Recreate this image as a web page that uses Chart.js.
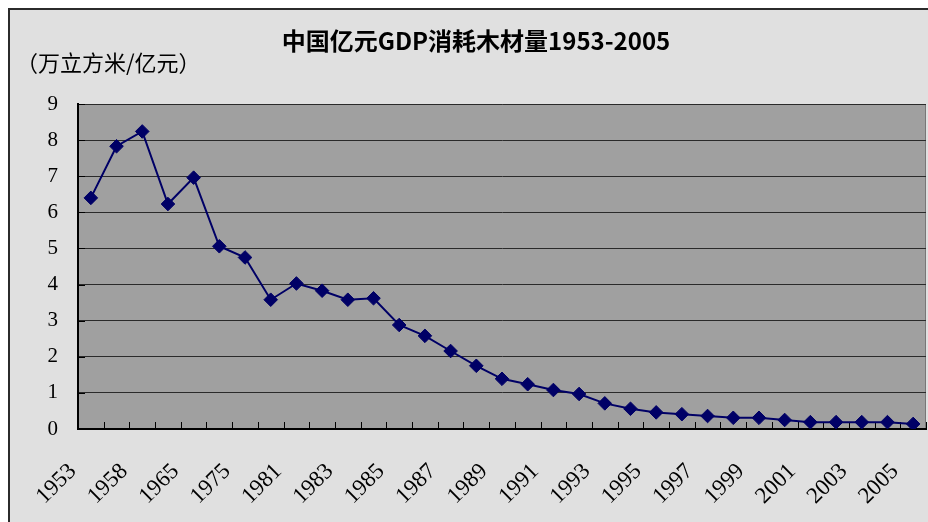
<!DOCTYPE html>
<html lang="zh">
<head>
    <meta charset="UTF-8">
    <title>中国亿元GDP消耗木材量1953-2005</title>
    <script src="https://cdn.jsdelivr.net/npm/chart.js"></script>
    <style>
        body {
            margin: 0;
            padding: 0;
            background: #fff;
            overflow: hidden;
        }
        canvas {
            display: block;
        }
    </style>
</head>
<body>
<canvas id="woodChart" width="928" height="522"></canvas>

<script>
    // 年份（只显示隔一个的标签）
    var years = ['1953', '1957', '1958', '1962', '1965', '1970', '1975', '1978',
        '1981', '1982', '1983', '1984', '1985', '1986', '1987', '1988', '1989',
        '1990', '1991', '1992', '1993', '1994', '1995', '1996', '1997', '1998',
        '1999', '2000', '2001', '2002', '2003', '2004', '2005'];
    // 万立方米/亿元
    var woodPerGdp = [6.40, 7.83, 8.24, 6.23, 6.96, 5.06, 4.75, 3.58,
        4.03, 3.83, 3.58, 3.62, 2.88, 2.58, 2.16, 1.75, 1.39,
        1.24, 1.08, 0.97, 0.71, 0.56, 0.46, 0.41, 0.36, 0.31,
        0.31, 0.25, 0.19, 0.19, 0.19, 0.19, 0.14];
    var yTicks = [0, 1, 2, 3, 4, 5, 6, 7, 8, 9];

    var chartTitle = '中国亿元GDP消耗木材量1953-2005';
    var unitLabel = '（万立方米/亿元）';

    // 背景、边框、标题
    var framePlugin = {
        id: 'frame',
        beforeDraw: function (chart) {
            var ctx = chart.ctx;
            var a = chart.chartArea;
            ctx.save();
            ctx.fillStyle = '#fff';
            ctx.fillRect(0, 0, chart.width, chart.height);
            ctx.fillStyle = '#e0e0e0';
            ctx.fillRect(8, 8, chart.width - 8, chart.height - 8);
            ctx.strokeStyle = '#2b2b2b';
            ctx.lineWidth = 2;
            ctx.beginPath();
            ctx.moveTo(9, chart.height);
            ctx.lineTo(9, 9);
            ctx.lineTo(chart.width, 9);
            ctx.stroke();

            ctx.fillStyle = '#a0a0a0';
            ctx.fillRect(a.left, a.top, a.right - a.left, a.bottom - a.top);
            ctx.strokeStyle = '#777';
            ctx.lineWidth = 1;
            ctx.beginPath();
            ctx.moveTo(a.left, a.top + 0.5);
            ctx.lineTo(a.right - 0.5, a.top + 0.5);
            ctx.lineTo(a.right - 0.5, a.bottom);
            ctx.stroke();

            ctx.fillStyle = '#000';
            ctx.textBaseline = 'middle';
            ctx.textAlign = 'center';
            ctx.font = 'bold 24px "Noto Sans CJK SC"';
            ctx.fillText(chartTitle, 476, 41);
            ctx.textAlign = 'left';
            ctx.font = '22px "Noto Sans CJK SC"';
            ctx.fillText(unitLabel, 16, 63);
            ctx.restore();
        },
        // 向内的刻度线
        beforeDatasetsDraw: function (chart) {
            var ctx = chart.ctx;
            var xs = chart.scales.x;
            var ys = chart.scales.y;
            var a = chart.chartArea;
            ctx.save();
            ctx.strokeStyle = '#000';
            ctx.lineWidth = 1;
            ctx.beginPath();
            for (var i = 0; i <= years.length; i++) {
                var x = Math.round(xs.getPixelForValue(i - 0.5)) + 0.5;
                ctx.moveTo(x, a.bottom);
                ctx.lineTo(x, a.bottom - 7);
            }
            ys.ticks.forEach(function (t) {
                var y = Math.round(ys.getPixelForValue(t.value)) + 0.5;
                ctx.moveTo(a.left, y);
                ctx.lineTo(a.left + 7, y);
            });
            ctx.stroke();
            ctx.restore();
        }
    };

    var ctx = document.getElementById('woodChart').getContext('2d');
    var woodChart = new Chart(ctx, {
        type: 'line',
        data: {
            labels: years,
            datasets: [{
                label: '亿元GDP消耗木材量',
                data: woodPerGdp,
                borderColor: '#000066',
                backgroundColor: '#000066',
                borderWidth: 2,
                pointStyle: 'rectRot',
                pointRadius: 6.8,
                pointBorderWidth: 1,
                tension: 0
            }]
        },
        options: {
            responsive: false,
            animation: false,
            devicePixelRatio: 1,
            layout: {
                autoPadding: false,
                padding: { top: 104, right: 2, left: 0, bottom: 0 }
            },
            plugins: {
                legend: { display: false },
                title: { display: false },
                tooltip: { enabled: false }
            },
            scales: {
                x: {
                    offset: true,
                    grid: { display: false },
                    border: { display: true, color: '#000', width: 2 },
                    ticks: {
                        autoSkip: false,
                        minRotation: 45,
                        maxRotation: 45,
                        padding: 21,
                        labelOffset: -18,
                        color: '#000',
                        font: { family: '"Liberation Serif"', size: 23 },
                        callback: function (v, i) {
                            return i % 2 === 0 ? years[i] : '';
                        }
                    },
                    afterFit: function (s) {
                        s.height = 93;
                        s.paddingLeft = 0;
                        s.paddingRight = 0;
                    }
                },
                y: {
                    min: 0,
                    max: 9,
                    afterBuildTicks: function (s) {
                        s.ticks = yTicks.map(function (v) { return { value: v }; });
                    },
                    grid: {
                        color: '#2a2a2a',
                        lineWidth: 1,
                        drawTicks: false
                    },
                    border: { display: true, color: '#000', width: 2 },
                    ticks: {
                        padding: 20,
                        color: '#000',
                        font: { family: '"Liberation Serif"', size: 21 }
                    },
                    afterFit: function (s) {
                        s.width = 78;
                    }
                }
            }
        },
        plugins: [framePlugin]
    });
</script>
</body>
</html>
